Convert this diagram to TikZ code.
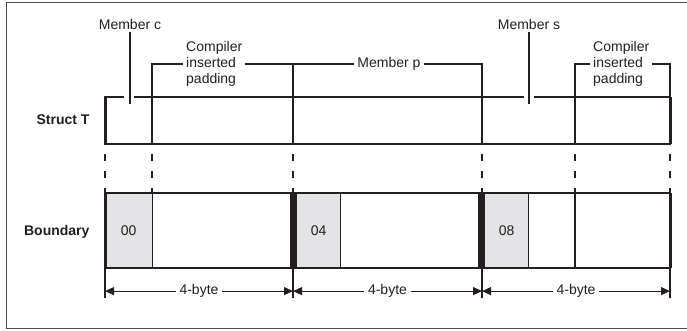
\documentclass[tikz,border=0pt]{standalone}
\usepackage{fontspec}
\setmainfont{Liberation Sans}
\setsansfont{Liberation Sans}
\usetikzlibrary{positioning,calc,arrows.meta}
\definecolor{ink}{HTML}{231F20}
\definecolor{cellg}{HTML}{E4E4E6}
\definecolor{frameg}{HTML}{4A4A4A}
\tikzset{
  every node/.append style={font=\sffamily\fontsize{14}{16}\selectfont, text=ink},
  lbl/.style={inner sep=3pt, align=left},
  tag/.style={font=\sffamily\bfseries\fontsize{14}{16}\selectfont, anchor=east},
  outl/.style={draw=ink, line width=2pt},
  edgel/.style={draw=ink, line width=3pt},
  divl/.style={draw=ink, line width=1.3pt},
  lead/.style={draw=ink, line width=1.2pt},
  dashl/.style={draw=ink, line width=1.4pt, dash pattern=on 7pt off 10pt, dash phase=7pt},
  cell/.style={fill=cellg, minimum height=75pt, inner sep=0pt, anchor=north west},
  barl/.style={fill=ink},
  dimarr/.style={{Triangle[length=9pt,width=8pt]}-{Triangle[length=9pt,width=8pt]},
                 draw=ink, line width=1.2pt},
  numl/.style={fill=white, inner sep=4pt},
  frm/.style={draw=frameg, line width=1pt},
}
\begin{document}
\begin{tikzpicture}[x=1pt,y=-1pt]
  \useasboundingbox (0,0) rectangle (687,331);
  \draw[frm] (6,3) rectangle (700,328);
  % --- column boundaries ---
  \foreach \n/\x in {a/105,b/152,c/293,d/482,e/575,f/670}{
     \coordinate (t\n) at (\x,97);
     \coordinate (u\n) at (\x,144);
     \coordinate (v\n) at (\x,193);
     \coordinate (w\n) at (\x,268);
     \coordinate (z\n) at (\x,298);}
  % --- Struct T row ---
  \node[tag] (strT) at (93,120){Struct T};
  \foreach \n in {b,c,d,e}{
     \draw[divl] (t\n) -- (u\n);}
  \coordinate (gc1) at (124,97);
  \coordinate (gc2) at (134,97);
  \coordinate (gs1) at (524,97);
  \coordinate (gs2) at (534,97);
  \draw[outl] (gc1) -- (ta) -- (ua) -- (uf) -- (tf) -- (gs2);
  \draw[outl] (gc2) -- (gs1);
  \draw[edgel] (ta) -- (ua);
  \draw[edgel] (tf) -- (uf);
  % --- member labels ---
  \node[lbl] (memc) at (130,24){Member c};
  \coordinate (cend) at (130,104);
  \draw[lead] (memc.south) -- (cend);
  \node[lbl] (mems) at (529,24){Member s};
  \coordinate (send) at (529,104);
  \draw[lead] (mems.south) -- (send);
  \node[lbl, anchor=west] (pad1) at (183,64){Compiler\\inserted\\padding};
  \draw[lead] (tb) |- (pad1.west);
  \draw[lead] (pad1.east) -| (tc);
  \node[lbl] (memp) at (389,64){Member p};
  \draw[lead] (tc) |- (memp.west);
  \draw[lead] (memp.east) -| (td);
  \node[lbl, anchor=west] (pad2) at (590,64){Compiler\\inserted\\padding};
  \draw[lead] (te) |- (pad2.west);
  \draw[lead] (pad2.east) -| (tf);
  % --- guide lines ---
  \foreach \n in {a,b,c,d,e,f}{
     \draw[dashl] (u\n) -- (v\n);}
  % --- Boundary row ---
  \node[tag] (bnd) at (93,232){Boundary};
  \node[cell, minimum width=47pt] (c00) at (va){00};
  \node[cell, minimum width=43pt] (c04) at (297,193){04};
  \node[cell, minimum width=43pt] (c08) at (485,193){08};
  \fill[barl] (290,193) rectangle (297,268);
  \fill[barl] (478,193) rectangle (485,268);
  \draw[divl] (c00.north east) -- (c00.south east);
  \draw[divl] (c04.north east) -- (c04.south east);
  \draw[divl] (c08.north east) -- (c08.south east);
  \draw[divl] (ve) -- (we);
  \draw[outl] (va) rectangle (wf);
  \draw[edgel] (va) -- (wa);
  \draw[edgel] (vf) -- (wf);
  % --- 4-byte spans ---
  \foreach \n in {a,c,d,f}{
     \draw[lead] (w\n) -- (z\n);}
  \foreach \p/\q in {a/c,c/d,d/f}{
     \draw[dimarr] ($(w\p)!0.77!(z\p)$) -- node[numl]{4-byte} ($(w\q)!0.77!(z\q)$);}
\end{tikzpicture}
\end{document}
